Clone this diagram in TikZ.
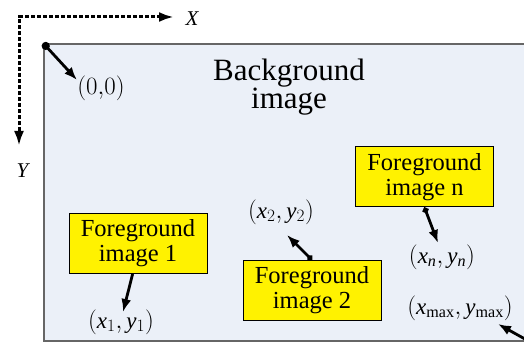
\documentclass[tikz,border=0pt]{standalone}
\usepackage{fontspec}
\setmainfont{Liberation Serif}
\newfontfamily\tnr{Liberation Serif}
\usepackage{tikz}
\usetikzlibrary{arrows.meta,positioning}
\definecolor{bgblue}{HTML}{EBF0F8}
\definecolor{rimgray}{HTML}{666666}
\newcommand{\xypos}[2]{$\left(\mathit{x}_{#1},\mathit{y}_{#2}\right)$}

\begin{document}
\begin{tikzpicture}[x=1pt,y=1pt,
  fgbox/.style={draw=black,line width=1pt,fill=yellow,align=center,
    minimum width=138pt,minimum height=60pt,inner sep=0pt,
    font=\tnr\fontsize{24.5}{25}\selectfont},
  ptlbl/.style={inner sep=0pt,font=\tnr\fontsize{23}{23}\selectfont},
  axlbl/.style={inner sep=0pt,font=\tnr\fontsize{21}{21}\selectfont\itshape},
  dotptr/.style={{Circle[length=6pt]}-{Latex[length=13pt,width=10pt]},line width=2.8pt}]
  \useasboundingbox (0,0) rectangle (524,342);
  % Background image
  \node[draw=rimgray,line width=1.6pt,fill=bgblue,anchor=north west,
    minimum width=485pt,minimum height=297pt,inner sep=0pt] (bg) at (43,299) {};
  \node[align=center,inner sep=0pt,font=\tnr\fontsize{31}{27}\selectfont] (bgtxt) at (289,255) {Background\\image};
  % Axes
  \coordinate (ax0) at (19,325);
  \coordinate (axX) at (174,325);
  \coordinate (axY) at (19,196);
  \draw[{Latex[length=15pt,width=10pt]}-{Latex[length=15pt,width=10pt]},
    line width=3pt,dash pattern=on 4pt off 2pt] (axX) -- (ax0) -- (axY);
  \node[axlbl] (xlbl) at (192,323) {X};
  \node[axlbl] (ylbl) at (22.5,171) {Y};
  % Foreground images
  \node[fgbox] (fg1) at (138,98.5) {Foreground\\image 1};
  \node[fgbox] (fg2) at (312,51.5) {Foreground\\image 2};
  \node[fgbox] (fgn) at (424.5,165) {Foreground\\image n};
  % Positions
  \coordinate (p0) at (77,262);
  \coordinate (p1) at (123,30);
  \coordinate (p2) at (287,107);
  \coordinate (pn) at (438,99);
  \coordinate (pm) at (498,18);
  \draw[dotptr,{Circle[length=8pt]}-{Latex[length=13pt,width=10pt]}] (bg.north west) -- (p0);
  \draw[dotptr,-{Latex[length=13pt,width=10pt]}] (fg1.260) -- (p1);
  \draw[dotptr] (fg2.north) -- (p2);
  \draw[dotptr] (fgn.south) -- (pn);
  \draw[dotptr] (bg.south east) -- (pm);
  \node[ptlbl] (l0) at (101,254) {$\left(0{,}0\right)$};
  \node[ptlbl] (l1) at (121,20) {\xypos{1}{1}};
  \node[ptlbl] (l2) at (281,130) {\xypos{2}{2}};
  \node[ptlbl] (ln) at (442,85) {\xypos{\mathit{n}}{\mathit{n}}};
  \node[ptlbl] (lm) at (460,34) {\xypos{\mathrm{max}}{\mathrm{max}}};
\end{tikzpicture}
\end{document}
